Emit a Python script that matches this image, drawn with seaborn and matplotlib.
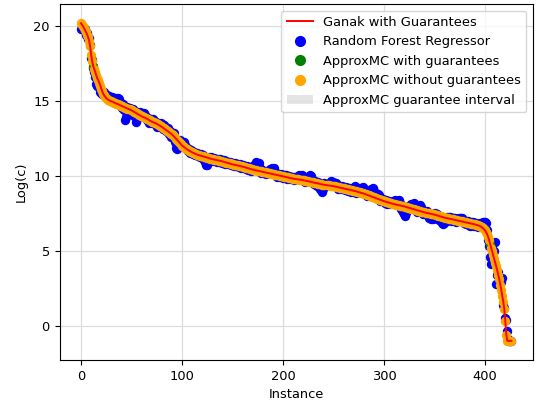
import numpy as np
import pandas as pd
import matplotlib
matplotlib.use("Agg")
import matplotlib.pyplot as plt
import seaborn as sns
from matplotlib.lines import Line2D
from matplotlib.patches import Patch

# Ganak (exact) log-counts, per instance, sorted descending
ganak = [
    20.15, 20.05, 19.95, 19.82, 19.70, 19.55, 19.40, 19.22, 19.00, 18.62,
    18.05, 17.62, 17.30, 17.12, 16.90, 16.70, 16.50, 16.36, 16.20, 16.00,
    15.80, 15.62, 15.45, 15.34, 15.25, 15.16, 15.10, 15.05, 15.01, 14.98,
    14.95, 14.92, 14.90, 14.86, 14.83, 14.80, 14.78, 14.75, 14.71, 14.68,
    14.65, 14.62, 14.59, 14.56, 14.53, 14.50, 14.47, 14.44, 14.41, 14.38,
    14.35, 14.31, 14.27, 14.23, 14.19, 14.15, 14.11, 14.07, 14.03, 13.99,
    13.95, 13.92, 13.89, 13.86, 13.83, 13.80, 13.76, 13.72, 13.68, 13.64,
    13.60, 13.57, 13.54, 13.51, 13.48, 13.45, 13.41, 13.37, 13.33, 13.29,
    13.25, 13.20, 13.15, 13.10, 13.05, 13.00, 12.95, 12.90, 12.85, 12.80,
    12.75, 12.68, 12.61, 12.54, 12.47, 12.40, 12.32, 12.24, 12.16, 12.08,
    12.00, 11.95, 11.90, 11.85, 11.80, 11.75, 11.71, 11.67, 11.63, 11.59,
    11.55, 11.52, 11.49, 11.46, 11.43, 11.40, 11.38, 11.36, 11.34, 11.32,
    11.30, 11.28, 11.26, 11.24, 11.22, 11.20, 11.18, 11.16, 11.14, 11.12,
    11.10, 11.09, 11.07, 11.06, 11.04, 11.03, 11.01, 11.00, 10.98, 10.97,
    10.95, 10.93, 10.91, 10.89, 10.87, 10.85, 10.83, 10.81, 10.79, 10.77,
    10.75, 10.74, 10.72, 10.71, 10.69, 10.68, 10.66, 10.65, 10.63, 10.62,
    10.60, 10.58, 10.56, 10.54, 10.52, 10.50, 10.48, 10.46, 10.44, 10.42,
    10.40, 10.39, 10.37, 10.36, 10.34, 10.33, 10.31, 10.30, 10.28, 10.27,
    10.25, 10.24, 10.22, 10.21, 10.19, 10.18, 10.16, 10.15, 10.13, 10.12,
    10.10, 10.09, 10.07, 10.06, 10.04, 10.03, 10.01, 10.00, 9.98, 9.97,
    9.95, 9.94, 9.92, 9.91, 9.89, 9.88, 9.86, 9.85, 9.83, 9.82,
    9.80, 9.79, 9.78, 9.77, 9.76, 9.75, 9.74, 9.73, 9.72, 9.71,
    9.70, 9.68, 9.67, 9.65, 9.64, 9.62, 9.61, 9.59, 9.58, 9.56,
    9.55, 9.53, 9.52, 9.50, 9.49, 9.47, 9.46, 9.44, 9.43, 9.41,
    9.40, 9.39, 9.38, 9.37, 9.36, 9.35, 9.34, 9.33, 9.32, 9.31,
    9.30, 9.28, 9.27, 9.25, 9.24, 9.22, 9.21, 9.19, 9.18, 9.16,
    9.15, 9.13, 9.12, 9.10, 9.09, 9.07, 9.06, 9.04, 9.03, 9.01,
    9.00, 8.98, 8.96, 8.94, 8.92, 8.90, 8.88, 8.86, 8.84, 8.82,
    8.80, 8.78, 8.75, 8.73, 8.70, 8.68, 8.65, 8.63, 8.60, 8.58,
    8.55, 8.52, 8.50, 8.47, 8.45, 8.42, 8.40, 8.37, 8.35, 8.32,
    8.30, 8.28, 8.26, 8.24, 8.22, 8.20, 8.18, 8.16, 8.14, 8.12,
    8.10, 8.09, 8.07, 8.06, 8.04, 8.03, 8.01, 8.00, 7.98, 7.97,
    7.95, 7.93, 7.91, 7.89, 7.87, 7.85, 7.83, 7.81, 7.79, 7.77,
    7.75, 7.73, 7.71, 7.69, 7.67, 7.65, 7.63, 7.61, 7.59, 7.57,
    7.55, 7.54, 7.52, 7.51, 7.49, 7.48, 7.46, 7.45, 7.43, 7.42,
    7.40, 7.38, 7.36, 7.34, 7.32, 7.30, 7.28, 7.26, 7.24, 7.22,
    7.20, 7.19, 7.17, 7.16, 7.14, 7.13, 7.11, 7.10, 7.08, 7.07,
    7.05, 7.04, 7.02, 7.01, 6.99, 6.98, 6.96, 6.95, 6.93, 6.92,
    6.90, 6.89, 6.87, 6.86, 6.84, 6.83, 6.81, 6.80, 6.78, 6.77,
    6.75, 6.73, 6.71, 6.69, 6.66, 6.63, 6.60, 6.55, 6.49, 6.42,
    6.35, 6.23, 6.10, 5.92, 5.70, 5.45, 5.20, 4.95, 4.70, 4.45,
    4.20, 3.95, 3.70, 3.40, 3.10, 2.75, 2.40, 2.00, 1.60, 1.10,
    0.30, -0.60, -1.00, -1.00, -1.00, -1.00, -1.00,
]

# Random forest prediction minus exact value, per instance
rf_residual = [
    -0.4, -0.3, -0.2, -0.1, 0.1, -0.2, 0.1, -0.1, 0.2, 0.1, -0.2, 0.1, -0.1, -0.2, -0.3, -0.6, -0.5, -0.3, -0.2, -0.4,
    -0.3, -0.2, 0.1, 0.2, 0.1, 0.2, 0.3, 0.2, 0.3, 0.2, 0.3, 0.35, 0.2, 0.3, 0.2, 0.4, 0.3, 0.45, 0.4, 0.2,
    0.1, -0.1, 0.2, -0.2, -0.8, -0.6, 0.1, -0.2, 0.1, -0.1, -0.2, 0.1, -0.3, -0.1, -0.65, -0.4, 0.1, -0.1, 0.2, 0.1,
    0.2, 0.1, 0.25, 0.2, 0.1, -0.1, 0.1, -0.2, 0.1, 0.1, -0.1, 0.2, 0.1, -0.1, 0.1, -0.2, 0.1, 0.1, -0.1, 0.2,
    0.1, -0.1, 0.2, 0.1, -0.1, 0.1, 0.2, -0.1, 0.1, -0.2, 0.1, -0.1, 0.2, -0.3, -0.6, -0.65, -0.3, 0.1, 0.2, 0.1,
    0.2, 0.3, 0.35, 0.2, 0.1, 0.1, -0.1, 0.1, -0.1, 0.1, 0.1, -0.1, 0.1, -0.1, 0.1, 0.1, -0.1, 0.1, -0.1, 0.1,
    -0.1, 0.1, -0.2, -0.3, -0.5, -0.5, -0.2, 0.1, -0.1, 0.1, 0.1, -0.1, 0.1, -0.1, 0.1, -0.1, 0.1, -0.1, 0.1, 0.1,
    -0.1, 0.1, 0.1, -0.1, 0.1, -0.1, 0.1, 0.1, -0.1, 0.1, 0.1, -0.1, 0.1, -0.1, 0.1, 0.1, -0.1, 0.1, -0.1, 0.1,
    0.1, -0.1, 0.1, -0.1, 0.1, -0.1, 0.1, 0.1, -0.1, 0.1, 0.1, 0.3, 0.2, 0.55, 0.3, 0.2, 0.55, 0.2, -0.1, 0.1,
    -0.1, 0.1, 0.1, -0.1, 0.1, 0.1, 0.1, 0.3, 0.2, 0.4, 0.2, 0.45, 0.2, 0.1, -0.1, 0.1, 0.1, -0.1, 0.1, 0.1,
    -0.1, 0.1, 0.1, 0.1, -0.1, 0.1, 0.1, -0.1, 0.1, 0.1, 0.1, -0.1, 0.1, 0.1, 0.1, 0.1, 0.3, 0.2, 0.25, 0.35,
    0.2, 0.1, -0.1, 0.2, 0.3, 0.2, 0.3, 0.45, 0.4, 0.2, 0.1, -0.1, 0.1, -0.1, -0.2, 0.1, -0.1, -0.3, -0.4, -0.5,
    -0.3, 0.1, -0.1, 0.1, 0.1, 0.1, 0.2, 0.3, 0.2, 0.25, 0.1, 0.2, 0.25, 0.1, -0.1, 0.1, 0.1, -0.1, 0.1, 0.1,
    0.1, -0.1, 0.1, 0.1, -0.1, 0.1, 0.1, -0.1, 0.1, 0.1, 0.2, 0.3, -0.1, 0.1, 0.1, 0.1, 0.3, 0.2, 0.35, 0.4,
    0.3, 0.2, 0.1, -0.1, 0.1, 0.3, 0.4, 0.5, 0.3, 0.6, 0.4, 0.2, 0.1, 0.1, 0.3, 0.3, -0.1, 0.1, 0.1, 0.1,
    0.1, -0.1, 0.1, -0.1, 0.1, 0.1, -0.1, 0.1, 0.1, 0.1, 0.2, 0.3, 0.1, 0.2, 0.3, 0.35, 0.2, -0.2, -0.3, -0.4,
    -0.5, -0.6, -0.4, -0.2, 0.1, 0.1, 0.1, 0.3, 0.2, 0.3, 0.4, 0.2, 0.1, -0.1, 0.2, 0.3, 0.4, 0.3, 0.1, -0.1,
    0.1, -0.1, 0.1, -0.2, -0.3, -0.2, -0.35, -0.3, -0.35, -0.2, 0.1, -0.1, 0.1, -0.2, -0.3, -0.2, -0.3, -0.4, -0.45, -0.4,
    -0.3, -0.2, 0.1, -0.1, 0.1, 0.1, -0.1, 0.1, 0.1, 0.1, 0.1, -0.1, 0.1, 0.1, 0.2, 0.2, 0.25, 0.2, 0.1, -0.1,
    0.1, -0.1, 0.1, 0.1, -0.1, -0.2, -0.1, 0.1, 0.1, -0.1, 0.1, 0.1, 0.1, -0.1, 0.1, 0.2, 0.2, 0.3, 0.4, 0.5,
    0.55, 0.6, 0.3, -0.2, -0.4, -0.85, -1.1, 0.2, -0.2, 0.5, 1.4, -1.15, -0.3, 0.2, -0.1, 0.3, 0.5, 1.2, -0.2, 0.1,
    0.2, 1.0, 0.65, 0.1, 0.0, 0.0, 0.0,
]

# Instances for which ApproxMC ran with guarantees
guaranteed_idx = [12, 28, 93, 140, 242, 350, 405]
interval_halfwidth = 0.2

n = len(ganak)
df = pd.DataFrame({
    "Instance": np.arange(n),
    "ganak": ganak,
    "rf": np.array(ganak) + np.array(rf_residual),
    "approx": ganak,
})
df["guar"] = df["Instance"].isin(guaranteed_idx)

plt.rcParams["font.size"] = 9.4

fig = plt.figure(figsize=(5.41, 4.07), dpi=100)
ax = fig.add_axes([0.11, 0.1155, 0.875, 0.8745])

ax.fill_between(df["Instance"], df["approx"] - interval_halfwidth,
                df["approx"] + interval_halfwidth, color="gray", alpha=0.2,
                linewidth=0, zorder=0.5)
sns.scatterplot(data=df, x="Instance", y="rf", color="blue", s=34,
                edgecolor="blue", linewidth=0.9, ax=ax, zorder=1)
sns.scatterplot(data=df[df["guar"]], x="Instance", y="approx", color="green",
                s=34, edgecolor="green", linewidth=0.9, ax=ax, zorder=1.1)
sns.scatterplot(data=df[~df["guar"]], x="Instance", y="approx", color="orange",
                s=34, edgecolor="orange", linewidth=0.9, ax=ax, zorder=1.2)
sns.lineplot(data=df, x="Instance", y="ganak", color="red", linewidth=1.4,
             ax=ax, zorder=2)

ax.grid(True, color="#dcdcdc", linewidth=0.9)
ax.set_axisbelow(True)
ax.set_xlabel("Instance")
ax.set_ylabel("Log(c)")

handles = [
    Line2D([0], [0], color="red", lw=1.4),
    Line2D([0], [0], marker="o", color="w", markerfacecolor="blue", markeredgecolor="blue", markersize=7, lw=0),
    Line2D([0], [0], marker="o", color="w", markerfacecolor="green", markeredgecolor="green", markersize=7, lw=0),
    Line2D([0], [0], marker="o", color="w", markerfacecolor="orange", markeredgecolor="orange", markersize=7, lw=0),
    Patch(facecolor="gray", alpha=0.2),
]
labels = ["Ganak with Guarantees", "Random Forest Regressor",
          "ApproxMC with guarantees", "ApproxMC without guarantees",
          "ApproxMC guarantee interval"]
ax.legend(handles, labels, loc="upper right")

fig.savefig("out.png", dpi=100)
